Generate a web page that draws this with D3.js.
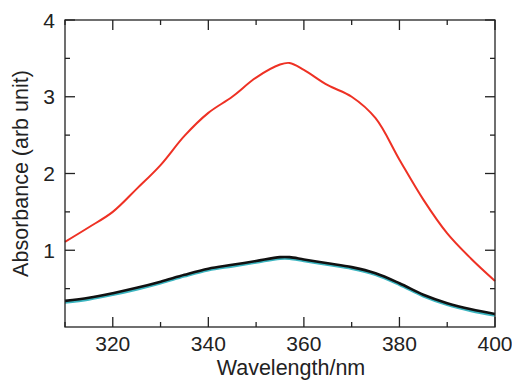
<!DOCTYPE html>
<html>
<head>
<meta charset="utf-8">
<script src="https://cdn.jsdelivr.net/npm/d3@7"></script>
<style>
  body { margin: 0; background: #fff; }
  svg text { font-family: "Liberation Sans", Arial, Helvetica, sans-serif; fill: #222; }
</style>
</head>
<body>
<div id="chart"></div>
<script>
// wavelengths (nm) and absorbance
const wavelengths = [310, 315, 320, 325, 330, 335, 340, 345, 350, 355, 357, 360, 365, 370, 375, 380, 385, 390, 395, 400];
const redSeries   = [1.11, 1.30, 1.50, 1.80, 2.11, 2.49, 2.79, 3.00, 3.25, 3.42, 3.44, 3.35, 3.15, 3.00, 2.72, 2.18, 1.66, 1.22, 0.89, 0.60];
const blackSeries = [0.34, 0.38, 0.44, 0.51, 0.59, 0.68, 0.76, 0.81, 0.86, 0.91, 0.91, 0.88, 0.83, 0.78, 0.70, 0.57, 0.42, 0.31, 0.23, 0.17];
const cyanSeries  = [0.32, 0.36, 0.42, 0.49, 0.57, 0.66, 0.74, 0.79, 0.84, 0.89, 0.89, 0.86, 0.81, 0.76, 0.68, 0.55, 0.40, 0.29, 0.21, 0.15];
const xTicks = [320, 340, 360, 380, 400];
const yTicks = [1, 2, 3, 4];

const width = 512, height = 385;
const margin = { top: 20, right: 17, bottom: 58, left: 65 };
const w = width - margin.left - margin.right;
const h = height - margin.top - margin.bottom;

const svg = d3.select("#chart").append("svg")
    .attr("width", width)
    .attr("height", height);

const g = svg.append("g").attr("transform", `translate(${margin.left},${margin.top})`);

const x = d3.scaleLinear().domain([310, 400]).range([0, w]);
const y = d3.scaleLinear().domain([0, 4]).range([h, 0]);

// curves
const line = d3.line()
    .x(d => x(d[0]))
    .y(d => y(d[1]))
    .curve(d3.curveCatmullRom.alpha(0.5));

const series = [
    { values: cyanSeries, color: "#3bb5c0", width: 2.6 },
    { values: blackSeries, color: "#111", width: 2.6 },
    { values: redSeries, color: "#ee3124", width: 2 }
];

series.forEach(s => {
    g.append("path")
        .datum(wavelengths.map((wl, i) => [wl, s.values[i]]))
        .attr("fill", "none")
        .attr("stroke", s.color)
        .attr("stroke-width", s.width)
        .attr("stroke-linejoin", "round")
        .attr("d", line);
});

// frame with inward ticks on all sides
const frameColor = "#222";
g.append("rect")
    .attr("width", w).attr("height", h)
    .attr("fill", "none")
    .attr("stroke", frameColor)
    .attr("stroke-width", 1.3);

const xMinor = d3.range(310, 401, 10).filter(v => !xTicks.includes(v));
const yMinor = d3.range(0.5, 4, 1);

function xTickMarks(vals, len) {
    vals.forEach(v => {
        g.append("line").attr("x1", x(v)).attr("x2", x(v)).attr("y1", h).attr("y2", h - len)
            .attr("stroke", frameColor).attr("stroke-width", 1.3);
        g.append("line").attr("x1", x(v)).attr("x2", x(v)).attr("y1", 0).attr("y2", len)
            .attr("stroke", frameColor).attr("stroke-width", 1.3);
    });
}
function yTickMarks(vals, len) {
    vals.forEach(v => {
        g.append("line").attr("x1", 0).attr("x2", len).attr("y1", y(v)).attr("y2", y(v))
            .attr("stroke", frameColor).attr("stroke-width", 1.3);
        g.append("line").attr("x1", w).attr("x2", w - len).attr("y1", y(v)).attr("y2", y(v))
            .attr("stroke", frameColor).attr("stroke-width", 1.3);
    });
}
xTickMarks(xTicks, 10);
xTickMarks(xMinor, 5);
yTickMarks(yTicks, 10);
yTickMarks(yMinor, 5);

// tick labels
g.selectAll("text.xlab")
    .data(xTicks)
    .enter().append("text")
    .attr("class", "xlab")
    .attr("x", d => x(d))
    .attr("y", h + 24)
    .attr("text-anchor", "middle")
    .style("font-size", "21px")
    .text(d => d);

g.selectAll("text.ylab")
    .data(yTicks)
    .enter().append("text")
    .attr("class", "ylab")
    .attr("x", -10)
    .attr("y", d => y(d))
    .attr("dy", "0.36em")
    .attr("text-anchor", "end")
    .style("font-size", "21px")
    .text(d => d);

// axis titles
svg.append("text")
    .attr("x", 291)
    .attr("y", 375)
    .attr("text-anchor", "middle")
    .style("font-size", "21.5px")
    .text("Wavelength/nm");

svg.append("text")
    .attr("transform", `translate(28,${margin.top + h / 2}) rotate(-90)`)
    .attr("text-anchor", "middle")
    .style("font-size", "21.5px")
    .text("Absorbance (arb unit)");
</script>
</body>
</html>
